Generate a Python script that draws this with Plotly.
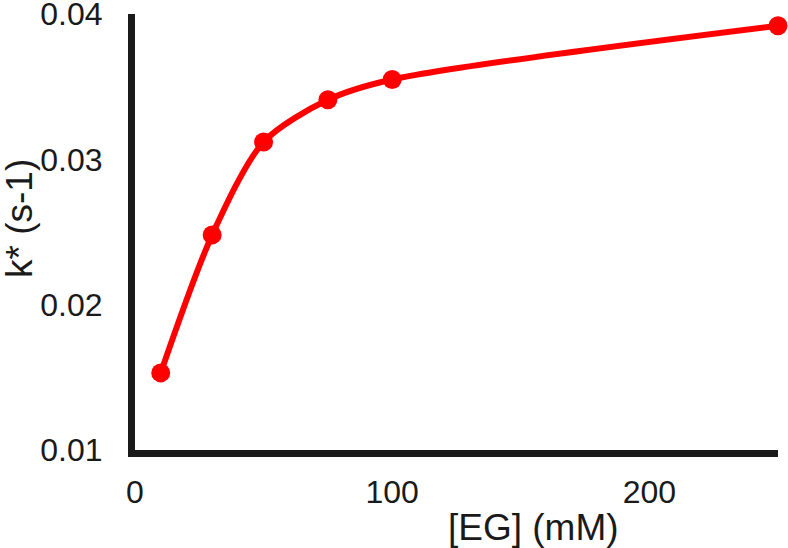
import plotly.graph_objects as go

# EG concentration (mM) and observed rate constant k* (s-1)
eg_mM = [10, 30, 50, 75, 100, 250]
k_star = [0.0153, 0.0248, 0.0312, 0.0341, 0.0355, 0.0392]

x_ticks = [0, 100, 200]
y_ticks = [0.01, 0.02, 0.03, 0.04]
y_tick_text = ["0.01", "0.02", "0.03", "0.04"]

fig = go.Figure()
fig.add_trace(go.Scatter(
    x=eg_mM, y=k_star,
    mode="lines+markers",
    line=dict(color="#ff0000", width=6, shape="spline", smoothing=0.8),
    marker=dict(color="#ff0000", size=19),
    cliponaxis=False,
))

fig.update_layout(
    width=788, height=548,
    margin=dict(l=135, r=10, t=14, b=98),
    plot_bgcolor="white", paper_bgcolor="white",
    font=dict(family="Liberation Sans, Arial", size=32, color="#1a1a1a"),
    showlegend=False,
)
fig.update_xaxes(
    range=[0, 250], tickvals=x_ticks, showgrid=False, zeroline=False,
    showline=True, linewidth=7, linecolor="#1a1a1a",
    ticks="", ticklabelstandoff=8, automargin=False,
    ticklabeloverflow="allow", tickfont=dict(size=32),
)
fig.update_yaxes(
    range=[0.00999, 0.04001], tickvals=y_ticks, ticktext=y_tick_text,
    showgrid=False, zeroline=False,
    showline=True, linewidth=7, linecolor="#1a1a1a",
    ticks="", ticklabelstandoff=19, automargin=False,
    ticklabeloverflow="allow", tickfont=dict(size=32),
)

# axis titles
fig.add_annotation(text="[EG] (mM)", xref="paper", yref="paper",
                   x=(533 - 135) / 643, y=-(527 - 450) / 436,
                   showarrow=False, font=dict(size=37), xanchor="center", yanchor="middle")
fig.add_annotation(text="k* (s-1)", xref="paper", yref="paper",
                   x=-(135 - 19) / 643, y=(450 - 219) / 436, textangle=-90,
                   showarrow=False, font=dict(size=37), xanchor="center", yanchor="middle")

# drop the page's default body margin so the figure sits at the window's corner
fig.write_html("out.html", config={"displayModeBar": False},
               post_script="document.body.style.margin='0';")
